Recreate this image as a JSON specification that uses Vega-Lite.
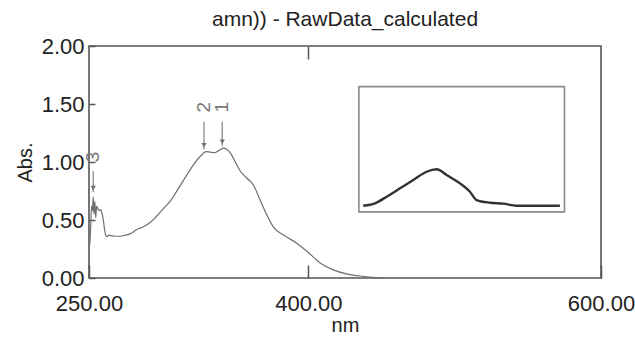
{
  "$schema": "https://vega.github.io/schema/vega-lite/v6.json",
  "width": 512,
  "height": 232,
  "autosize": {"type": "none"},
  "padding": {"left": 89, "top": 46, "right": 34, "bottom": 64},
  "background": "white",
  "config": {
    "view": {"stroke": "#555555", "strokeWidth": 1.6},
    "font": "Liberation Sans",
    "axis": {"grid": false, "domain": false, "tickColor": "#555555", "tickWidth": 1.5, "labelColor": "#222222", "titleColor": "#222222", "labelFont": "Liberation Sans", "titleFont": "Liberation Sans", "titleFontWeight": "normal", "labelFlush": false}
  },
  "title": {"text": "amn)) - RawData_calculated", "fontSize": 21, "fontWeight": "normal", "color": "#222222", "offset": 5, "font": "Liberation Sans"},
  "datasets": {
    "spectrum": [
      {"nm": 250.5, "abs": 0.28}, {"nm": 251.2, "abs": 0.45}, {"nm": 251.8, "abs": 0.62}, {"nm": 252.4, "abs": 0.58},
      {"nm": 252.9, "abs": 0.70}, {"nm": 253.4, "abs": 0.55}, {"nm": 254.0, "abs": 0.66}, {"nm": 254.6, "abs": 0.52},
      {"nm": 255.2, "abs": 0.62}, {"nm": 256.0, "abs": 0.60}, {"nm": 257.0, "abs": 0.58}, {"nm": 258.0, "abs": 0.59},
      {"nm": 259.0, "abs": 0.55}, {"nm": 259.8, "abs": 0.50}, {"nm": 260.6, "abs": 0.42}, {"nm": 261.4, "abs": 0.37},
      {"nm": 262.2, "abs": 0.355}, {"nm": 263.5, "abs": 0.37}, {"nm": 265, "abs": 0.365}, {"nm": 268, "abs": 0.36},
      {"nm": 271, "abs": 0.36}, {"nm": 275, "abs": 0.37}, {"nm": 278, "abs": 0.38}, {"nm": 283, "abs": 0.42},
      {"nm": 287, "abs": 0.44}, {"nm": 292, "abs": 0.48}, {"nm": 296, "abs": 0.53}, {"nm": 301, "abs": 0.60},
      {"nm": 306, "abs": 0.67}, {"nm": 312, "abs": 0.79}, {"nm": 319, "abs": 0.93}, {"nm": 324, "abs": 1.02},
      {"nm": 327, "abs": 1.06}, {"nm": 330, "abs": 1.09}, {"nm": 333, "abs": 1.085}, {"nm": 336, "abs": 1.08},
      {"nm": 339, "abs": 1.10}, {"nm": 342, "abs": 1.12}, {"nm": 345, "abs": 1.10}, {"nm": 347, "abs": 1.07},
      {"nm": 350, "abs": 1.00}, {"nm": 353.5, "abs": 0.92}, {"nm": 358, "abs": 0.86}, {"nm": 362.5, "abs": 0.80},
      {"nm": 367, "abs": 0.67}, {"nm": 371.7, "abs": 0.54}, {"nm": 376, "abs": 0.44}, {"nm": 383, "abs": 0.37},
      {"nm": 392, "abs": 0.30}, {"nm": 399, "abs": 0.23}, {"nm": 408, "abs": 0.13}, {"nm": 417, "abs": 0.07},
      {"nm": 426, "abs": 0.035}, {"nm": 435, "abs": 0.017}, {"nm": 444, "abs": 0.006}, {"nm": 451, "abs": 0.003}
    ],
    "peaks": [
      {"peak": "1", "nm": 341.1, "top": 1.35, "tip": 1.14},
      {"peak": "2", "nm": 328.6, "top": 1.35, "tip": 1.11},
      {"peak": "3", "nm": 252.9, "top": 0.92, "tip": 0.74}
    ],
    "insetBox": [
      {"x1": 434.5, "x2": 575.0, "y1": 0.57, "y2": 1.65}
    ],
    "insetCurve": [
      {"nm": 437.5, "abs": 0.623}, {"nm": 445.5, "abs": 0.644}, {"nm": 453.5, "abs": 0.701}, {"nm": 462.6, "abs": 0.773},
      {"nm": 471.7, "abs": 0.845}, {"nm": 480.8, "abs": 0.916}, {"nm": 487.7, "abs": 0.937}, {"nm": 494.5, "abs": 0.888},
      {"nm": 503.6, "abs": 0.816}, {"nm": 510.4, "abs": 0.744}, {"nm": 515.0, "abs": 0.672}, {"nm": 524.1, "abs": 0.649},
      {"nm": 533.2, "abs": 0.641}, {"nm": 542.3, "abs": 0.623}, {"nm": 551.4, "abs": 0.623}, {"nm": 571.9, "abs": 0.623}
    ]
  },
  "layer": [
    {
      "data": {"name": "spectrum"},
      "mark": {"type": "line", "color": "#6f6f6f", "strokeWidth": 1.2, "interpolate": "monotone"},
      "encoding": {
        "x": {"field": "nm", "type": "quantitative", "scale": {"domain": [250, 600], "nice": false, "zero": false},
          "axis": {"orient": "bottom", "values": [250, 400, 600], "format": ".2f", "title": "nm", "tickSize": -13, "labelPadding": 28, "labelFontSize": 22, "titleFontSize": 20, "titlePadding": 1}},
        "y": {"field": "abs", "type": "quantitative", "scale": {"domain": [0, 2], "nice": false, "zero": true},
          "axis": {"values": [0, 0.5, 1, 1.5, 2], "format": ".2f", "title": "Abs.", "tickSize": -6, "labelPadding": 11, "labelFontSize": 22, "titleFontSize": 20, "titlePadding": 6}}
      }
    },
    {
      "data": {"name": "peaks"},
      "mark": {"type": "rule", "color": "#808080", "strokeWidth": 1.2},
      "encoding": {
        "x": {"field": "nm", "type": "quantitative", "axis": {"orient": "top", "values": [400], "labels": false, "domain": false, "title": null, "tickSize": -13}},
        "y": {"field": "top", "type": "quantitative"},
        "y2": {"field": "tip"}
      }
    },
    {
      "data": {"name": "peaks"},
      "mark": {"type": "point", "shape": "triangle-down", "filled": true, "color": "#707070", "size": 28, "opacity": 1, "yOffset": -4},
      "encoding": {
        "x": {"field": "nm", "type": "quantitative", "axis": null},
        "y": {"field": "tip", "type": "quantitative"}
      }
    },
    {
      "data": {"name": "peaks"},
      "mark": {"type": "text", "angle": 270, "align": "left", "baseline": "middle", "dx": 9, "fontSize": 19, "color": "#777777"},
      "encoding": {
        "x": {"field": "nm", "type": "quantitative", "axis": null},
        "y": {"field": "top", "type": "quantitative"},
        "text": {"field": "peak"}
      }
    },
    {
      "data": {"name": "insetBox"},
      "mark": {"type": "rect", "fill": null, "fillOpacity": 0, "stroke": "#8a8a8a", "strokeWidth": 1.6},
      "encoding": {
        "x": {"field": "x1", "type": "quantitative", "axis": null},
        "x2": {"field": "x2"},
        "y": {"field": "y1", "type": "quantitative"},
        "y2": {"field": "y2"}
      }
    },
    {
      "data": {"name": "insetCurve"},
      "mark": {"type": "line", "color": "#333333", "strokeWidth": 2.4, "interpolate": "monotone"},
      "encoding": {
        "x": {"field": "nm", "type": "quantitative", "axis": null},
        "y": {"field": "abs", "type": "quantitative"}
      }
    }
  ],
  "resolve": {"axis": {"x": "independent"}}
}
